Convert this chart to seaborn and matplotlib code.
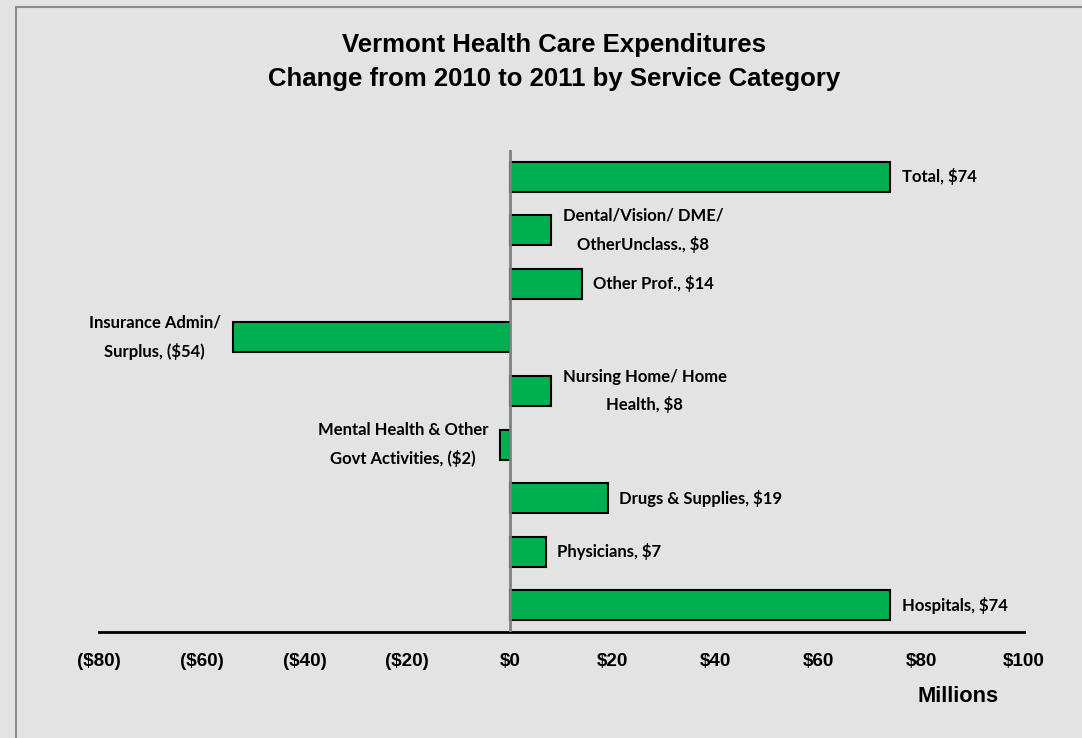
import matplotlib
matplotlib.use("Agg")
import matplotlib.pyplot as plt
from matplotlib.lines import Line2D
from matplotlib import font_manager
import seaborn as sns
import pandas as pd

# service categories, top to bottom as shown
categories = ["Total",
              "Dental/Vision/ DME/\nOtherUnclass.",
              "Other Prof.",
              "Insurance Admin/\nSurplus",
              "Nursing Home/ Home\nHealth",
              "Mental Health & Other\nGovt Activities",
              "Drugs & Supplies",
              "Physicians",
              "Hospitals"]
changes = [74, 8, 14, -54, 8, -2, 19, 7, 74]   # $ millions
tick_values = [-80, -60, -40, -20, 0, 20, 40, 60, 80, 100]

def money(v):
    return f"${v}" if v >= 0 else f"(${-v})"

df = pd.DataFrame({"category": categories, "change": changes})

# the slide uses Arial Narrow; use Liberation Sans Narrow if it is there
names = {f.name for f in font_manager.fontManager.ttflist}
if "Liberation Sans Narrow" in names:
    head_font = ["Liberation Sans Narrow", "DejaVu Sans"]
    title_size, tick_size, unit_size = 22, 16, 19
else:
    head_font = ["Liberation Sans", "DejaVu Sans"]
    title_size, tick_size, unit_size = 18.5, 13.6, 15.7
label_font = ["Lato", "DejaVu Sans"]

bg = "#e3e3e3"
sns.set_theme(style="white")
plt.rcParams["font.family"] = head_font
plt.rcParams["text.color"] = "black"
plt.rcParams["xtick.color"] = "black"

fig = plt.figure(figsize=(10.82, 7.38), dpi=100, facecolor=bg)
ax = fig.add_axes([99/1082, 1-632/738, 925/1082, 482/738])
ax.set_facecolor(bg)

sns.barplot(data=df, x="change", y="category", orient="h", order=categories,
            color="#00b050", saturation=1, edgecolor="black", linewidth=1.5,
            width=0.56, ax=ax)

ax.set_xlim(-80, 100)
ax.set_ylim(len(categories) - 0.5, -0.5)
ax.axvline(0, color="#808080", lw=2, zorder=5)

for s in ["top", "left", "right"]:
    ax.spines[s].set_visible(False)
ax.spines["bottom"].set_color("black")
ax.spines["bottom"].set_linewidth(2)

ax.set_yticks([])
ax.set_ylabel("")
ax.set_xlabel("")
ax.set_xticks(tick_values)
ax.set_xticklabels([money(v) for v in tick_values], fontsize=tick_size, fontweight="bold",
                   color="black")
ax.tick_params(axis="x", length=0, pad=15)

for i, (cat, v) in enumerate(zip(categories, changes)):
    label = f"{cat}, {money(v)}"
    if v >= 0:
        ax.text(v + 2.2, i, label, ha="left", va="center", multialignment="center",
                fontsize=12, fontweight="bold", family=label_font, color="black",
                linespacing=1.85)
    else:
        ax.text(v - 2.3, i, label, ha="right", va="center", multialignment="center",
                fontsize=12, fontweight="bold", family=label_font, color="black",
                linespacing=1.85)

fig.text(554/1082, 1-45/738, "Vermont Health Care Expenditures", ha="center", va="center",
         fontsize=title_size, fontweight="bold")
fig.text(554/1082, 1-79/738, "Change from 2010 to 2011 by Service Category", ha="center",
         va="center", fontsize=title_size, fontweight="bold")
fig.text(958/1082, 1-697/738, "Millions", ha="center", va="center",
         fontsize=unit_size, fontweight="bold")

# slide frame
fig.add_artist(Line2D([16/1082, 16/1082], [0, 1-7/738], color="#8c8c8c", lw=1.5))
fig.add_artist(Line2D([16/1082, 1], [1-7/738, 1-7/738], color="#8c8c8c", lw=1.5))

fig.savefig("out.png", dpi=100, facecolor=bg)
